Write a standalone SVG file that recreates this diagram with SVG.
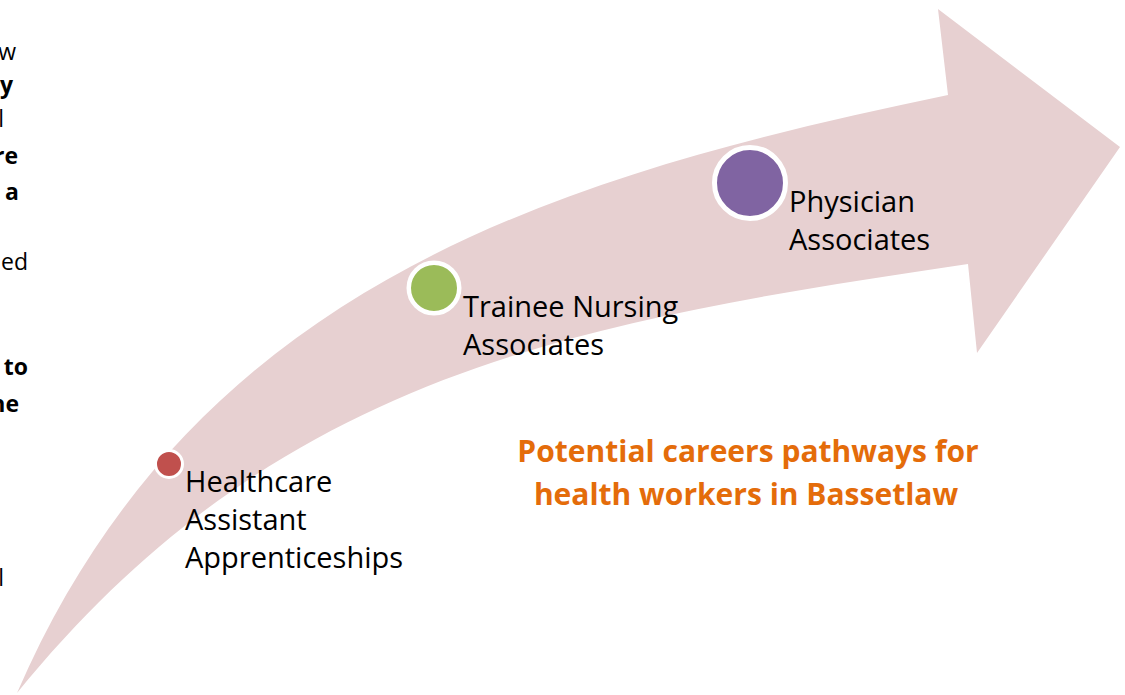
<svg xmlns="http://www.w3.org/2000/svg" width="1125" height="695" viewBox="0 0 1125 695">
  <style>
    .label { font-family: "Open Sans", "Liberation Sans", sans-serif; font-size: 29px; fill: #000000; }
    .side { font-family: "Open Sans", "Liberation Sans", sans-serif; font-size: 23px; fill: #000000; }
    .side-b { font-weight: bold; }
    .title { font-family: "Open Sans", "Liberation Sans", sans-serif; font-size: 30px; font-weight: bold; fill: #E46C0A; }
    .dot { stroke: #FFFFFF; }
  </style>
  <rect width="1125" height="695" fill="#FFFFFF"/>

  <!-- text fragments along the left margin -->
  <g id="side-text" text-anchor="end">
    <text class="side" x="16" y="60">w</text>
    <text class="side side-b" x="13" y="93">y</text>
    <text class="side" x="4" y="127">l</text>
    <text class="side side-b" x="18" y="164">re</text>
    <text class="side side-b" x="19" y="200">a</text>
    <text class="side" x="28" y="270">ed</text>
    <text class="side side-b" x="28" y="375">to</text>
    <text class="side side-b" x="19" y="412">ne</text>
    <text class="side" x="4" y="586">l</text>
  </g>

  <!-- curved progression arrow -->
  <g id="connectors">
    <path id="pathway-arrow" fill="#E7D0D1"
          d="M 17,693 C 195,282 560,176 948,95 L 938,9 L 1120,147 L 977,353 L 968,264 C 580,322 280,370 17,693 Z"/>
  </g>

  <g id="node-hca">
    <circle class="dot" cx="169" cy="464" r="13.5" stroke-width="3" fill="#C0504D"/>
    <text class="label" x="185" y="492">Healthcare</text>
    <text class="label" x="185" y="530">Assistant</text>
    <text class="label" x="185" y="568">Apprenticeships</text>
  </g>

  <g id="node-tna">
    <circle class="dot" cx="434" cy="288" r="25.25" stroke-width="4.5" fill="#9BBB59"/>
    <text class="label" x="463" y="317">Trainee Nursing</text>
    <text class="label" x="463" y="355">Associates</text>
  </g>

  <g id="node-pa">
    <circle class="dot" cx="750" cy="183" r="35.5" stroke-width="5" fill="#8064A2"/>
    <text class="label" x="789" y="212">Physician</text>
    <text class="label" x="789" y="250">Associates</text>
  </g>

  <g id="title" text-anchor="middle">
    <text class="title" x="748" y="462">Potential careers pathways for</text>
    <text class="title" x="746" y="505">health workers in Bassetlaw</text>
  </g>
</svg>
